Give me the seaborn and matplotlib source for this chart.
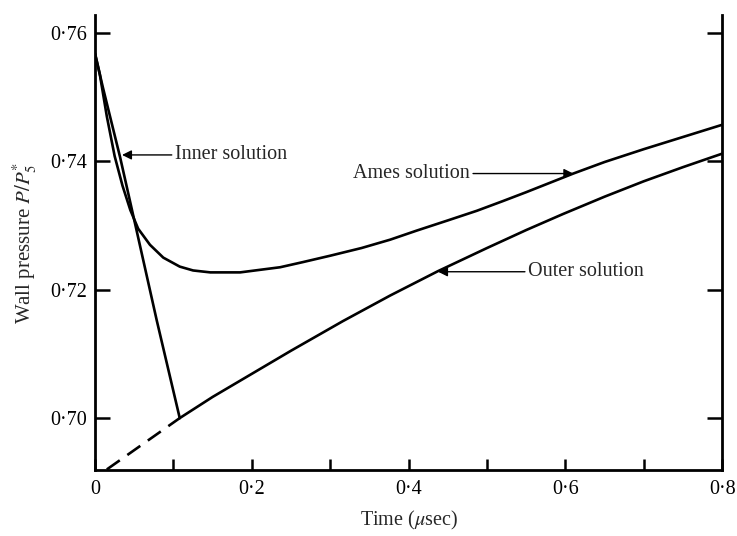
import numpy as np
import pandas as pd
import matplotlib
matplotlib.use("Agg")
import matplotlib.pyplot as plt
import seaborn as sns
from matplotlib.ticker import MultipleLocator, FuncFormatter

# ---- data ----
ames_t = [0.0, 0.006, 0.015, 0.025, 0.035, 0.045, 0.055, 0.070, 0.087, 0.108,
          0.125, 0.147, 0.185, 0.236, 0.265, 0.300, 0.340, 0.3765, 0.410, 0.450,
          0.487, 0.520, 0.550, 0.610, 0.650, 0.700, 0.750, 0.800]
ames_p = [0.7568, 0.7536, 0.7470, 0.7408, 0.7362, 0.7324, 0.7295, 0.7270, 0.7250,
          0.7236, 0.7230, 0.7227, 0.7227, 0.7235, 0.7243, 0.7253, 0.7265, 0.7278,
          0.7292, 0.7308, 0.7323, 0.7338, 0.7352, 0.7381, 0.7399, 0.7419, 0.7438,
          0.7457]

inner_t = [0.0, 0.010, 0.032, 0.051, 0.0787, 0.108]
inner_p = [0.7567, 0.7515, 0.7406, 0.7303, 0.7152, 0.7000]

outer_dash_t = [0.015, 0.108]
outer_dash_p = [0.6920, 0.7000]

outer_t = [0.108, 0.15, 0.20, 0.25, 0.316, 0.3765, 0.4375, 0.50, 0.55, 0.597,
           0.65, 0.70, 0.75, 0.788, 0.80]
outer_p = [0.7000, 0.7033, 0.7069, 0.7105, 0.7151, 0.7191, 0.7229, 0.7265, 0.7293,
           0.7318, 0.7345, 0.7369, 0.7391, 0.7407, 0.7412]

x_ticks = [0.0, 0.2, 0.4, 0.6, 0.8]
y_ticks = [0.70, 0.72, 0.74, 0.76]

labels = ["Inner solution", "Ames solution", "Outer solution"]

# ---- styling ----
sns.set_style("ticks")
plt.rcParams["font.family"] = ["Liberation Serif", "DejaVu Serif"]
plt.rcParams["mathtext.fontset"] = "stix"

fig = plt.figure(figsize=(7.37, 5.36), dpi=100)
ax = fig.add_axes([0.129, 0.123, 0.851, 0.849])

lw = 1.9
sns.lineplot(x=ames_t, y=ames_p, ax=ax, color="black", lw=lw, sort=False)
sns.lineplot(x=inner_t, y=inner_p, ax=ax, color="black", lw=lw, sort=False)
sns.lineplot(x=outer_t, y=outer_p, ax=ax, color="black", lw=lw, sort=False)
sns.lineplot(x=outer_dash_t, y=outer_dash_p, ax=ax, color="black", lw=lw,
             sort=False, linestyle=(0, (6, 3.5)))

ax.set_xlim(0, 0.8)
ax.set_ylim(0.6919, 0.7628)

def fmt_x(v, pos):
    if abs(v) < 1e-9:
        return "0"
    return f"{v:.1f}".replace(".", "\u00b7")

def fmt_y(v, pos):
    return f"{v:.2f}".replace(".", "\u00b7")

ax.set_xticks(x_ticks)
ax.set_yticks(y_ticks)
ax.xaxis.set_minor_locator(MultipleLocator(0.1))
ax.xaxis.set_major_formatter(FuncFormatter(fmt_x))
ax.yaxis.set_major_formatter(FuncFormatter(fmt_y))
ax.tick_params(axis="both", which="both", direction="in", width=1.8,
               labelsize=14.5, colors="black")
ax.tick_params(axis="x", which="both", length=8, pad=7)
ax.tick_params(axis="y", which="major", length=11, pad=6, right=True)

for side in ["left", "bottom", "right"]:
    ax.spines[side].set_linewidth(2.0)
    ax.spines[side].set_color("black")
ax.spines["top"].set_visible(False)

ax.set_xlabel(r"Time ($\mu$sec)", fontsize=14.5, labelpad=7)
ax.set_ylabel(r"Wall pressure $P/P_5^{*}$", fontsize=15, labelpad=8)

arrowprops = dict(arrowstyle="-|>", color="black", lw=1.0,
                  mutation_scale=14, shrinkA=0, shrinkB=0)
ax.annotate(labels[0], xy=(0.0344, 0.7410), xytext=(0.102, 0.7410),
            fontsize=14.5, va="center", ha="left", arrowprops=arrowprops)
ax.annotate(labels[1], xy=(0.610, 0.7381), xytext=(0.329, 0.7381),
            fontsize=14.5, va="center", ha="left", arrowprops=arrowprops)
ax.annotate(labels[2], xy=(0.4375, 0.7228), xytext=(0.5525, 0.7228),
            fontsize=14.5, va="center", ha="left", arrowprops=arrowprops)

fig.savefig("out.png", dpi=100)
